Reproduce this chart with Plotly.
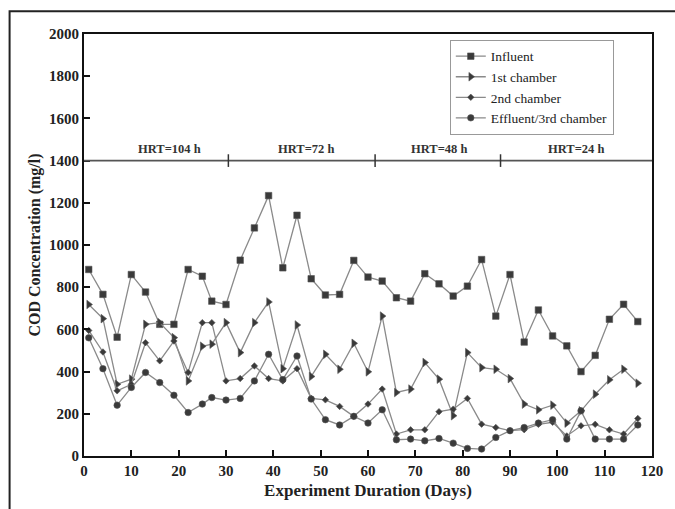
import plotly.graph_objects as go

days = [1, 4, 7, 10, 13, 16, 19, 22, 25, 27, 30, 33, 36, 39, 42, 45, 48, 51, 54, 57,
        60, 63, 66, 69, 72, 75, 78, 81, 84, 87, 90, 93, 96, 99, 102, 105, 108, 111, 114, 117]
influent = [884, 766, 563, 860, 777, 624, 624, 884, 852, 734, 718, 928, 1081, 1234, 892, 1141, 840, 763, 766, 927,
            848, 829, 750, 734, 864, 816, 758, 805, 931, 663, 860, 540, 692, 569, 522, 400, 477, 648, 719, 637]
chamber1 = [718, 651, 340, 364, 624, 632, 561, 356, 520, 530, 632, 490, 632, 730, 414, 621, 377, 482, 411, 534,
            399, 663, 301, 317, 443, 364, 191, 490, 419, 411, 367, 246, 219, 241, 156, 214, 293, 361, 411, 345]
chamber2 = [595, 493, 309, 340, 537, 451, 545, 396, 632, 632, 356, 367, 427, 367, 356, 414, 273, 266, 235, 188,
            246, 317, 104, 124, 124, 210, 222, 273, 151, 135, 120, 125, 150, 160, 95, 143, 150, 124, 104, 178]
effluent = [560, 414, 241, 325, 396, 348, 288, 206, 246, 277, 265, 273, 356, 482, 362, 474, 270, 172, 147, 188,
            156, 219, 77, 80, 72, 83, 61, 36, 33, 88, 120, 135, 156, 172, 80, 214, 80, 80, 80, 147]

series_names = ["Influent", "1st chamber", "2nd chamber", "Effluent/3rd chamber"]
series_symbols = ["square", "triangle-right", "diamond", "circle"]

hrt_boundaries = [30.5, 61.5, 88]
hrt_label_days = [18, 47, 75, 104]
hrt_labels = ["HRT=104 h", "HRT=72 h", "HRT=48 h", "HRT=24 h"]
hrt_level = 1400

FONT = "Liberation Serif"
LINE_C = "#8a8a8a"
MARK_C = "#3a3a3a"

fig = go.Figure()
sizes = [6.5, 7.5, 5, 6.5]
for name, vals, sym, sz in zip(series_names, [influent, chamber1, chamber2, effluent], series_symbols, sizes):
    fig.add_trace(go.Scatter(
        x=days, y=vals, name=name, mode="lines+markers",
        line=dict(color=LINE_C, width=1.3),
        marker=dict(symbol=sym, size=sz, color=MARK_C, line=dict(width=0.6, color="#555555")),
    ))

# HRT divider line
fig.add_shape(type="line", xref="x", yref="y", x0=0, x1=120, y0=hrt_level, y1=hrt_level,
              line=dict(color="#555555", width=1.6))
for b in hrt_boundaries:
    fig.add_shape(type="line", xref="x", yref="y", x0=b, x1=b, y0=hrt_level - 30, y1=hrt_level + 30,
                  line=dict(color="#333333", width=1.5))
for d, t in zip(hrt_label_days, hrt_labels):
    fig.add_annotation(x=d, y=hrt_level, yshift=12, text=t, showarrow=False,
                       font=dict(family=FONT, size=12.5, color="#333333", weight="bold"))

# outer frame of the image
fig.add_shape(type="rect", xref="paper", yref="paper", x0=-0.131, x1=1.2, y0=-0.2, y1=1.054,
              line=dict(color="#222222", width=2), layer="below")

axis_common = dict(
    showline=True, linecolor="#111111", linewidth=2, mirror=True,
    ticks="inside", ticklen=6, tickwidth=2, tickcolor="#111111",
    showgrid=False, zeroline=False,
    tickfont=dict(family=FONT, size=15, color="#222222", weight="bold"),
)

fig.update_layout(
    width=675, height=509,
    margin=dict(l=84, r=20, t=34, b=52),
    paper_bgcolor="white", plot_bgcolor="white",
    font=dict(family=FONT, color="#222222"),
    showlegend=True,
    legend=dict(x=0.644, y=0.986, xanchor="left", yanchor="top",
                bordercolor="#999999", borderwidth=1, bgcolor="white",
                font=dict(family=FONT, size=13.5, color="#222222"),
                tracegroupgap=0, itemwidth=30),
    xaxis=dict(range=[0, 120], tickmode="array", tickvals=list(range(0, 121, 10)),
               title=dict(text="Experiment Duration (Days)",
                          font=dict(family=FONT, size=17, weight="bold"), standoff=6),
               **axis_common),
    yaxis=dict(range=[0, 2000], tickmode="array", tickvals=list(range(0, 2001, 200)),
               title=dict(text="COD Concentration (mg/l)",
                          font=dict(family=FONT, size=16, weight="bold"), standoff=4),
               **axis_common),
)

fig.write_html("out.html")
